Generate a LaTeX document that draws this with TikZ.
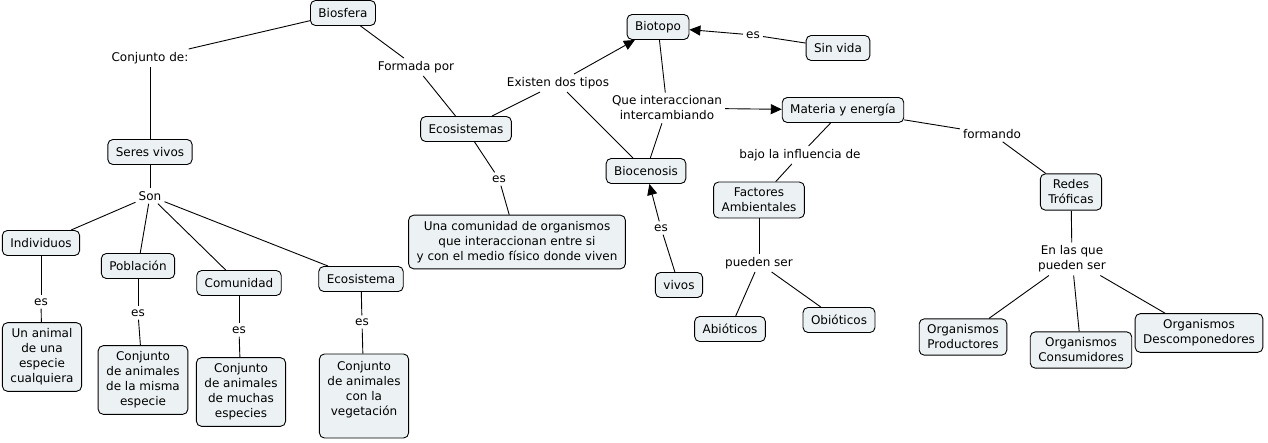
\documentclass[tikz,border=0pt]{standalone}
\usepackage{fontspec}
\setmainfont{DejaVu Sans}
\usetikzlibrary{arrows.meta}
\definecolor{conceptfill}{RGB}{236,242,244}
\tikzset{
  concept/.style={draw=black, line width=0.9pt, rounded corners=5pt, fill=conceptfill,
    inner xsep=8pt, inner ysep=6pt, minimum height=25pt, align=center,
    font=\fontsize{12}{15}\selectfont},
  linkph/.style={inner xsep=3pt, inner ysep=3pt, align=center, font=\fontsize{12}{15}\selectfont},
  conn/.style={line width=0.9pt, draw=black},
  arr/.style={conn, -{Triangle[length=11pt,width=10pt]}}
}
\begin{document}
\begin{tikzpicture}[x=1pt,y=-1pt]
\useasboundingbox (0,0) rectangle (1268,442);
% concepts
\node[concept] (biosfera) at (343,13) {Biosfera};
\node[concept] (seres) at (150,152) {Seres vivos};
\node[concept] (indiv) at (41,243) {Individuos};
\node[concept] (pobl) at (138,266) {Población};
\node[concept] (comun) at (239,283) {Comunidad};
\node[concept] (ecosis) at (361,279) {Ecosistema};
\node[concept] (unanimal) at (42,357) {Un animal\\de una\\especie\\cualquiera};
\node[concept] (cmisma) at (143,380) {Conjunto\\de animales\\de la misma\\especie};
\node[concept] (cmuchas) at (241,392) {Conjunto\\de animales\\de muchas\\especies};
\node[concept, minimum height=84pt] (cveg) at (364,396) {Conjunto\\de animales\\con la\\vegetación\\[0pt]~};
\node[concept] (ecosistemas) at (466,129) {Ecosistemas};
\node[concept] (unacom) at (517,242) {Una comunidad de organismos\\que interaccionan entre si\\y con el medio físico donde viven};
\node[concept] (biotopo) at (658,27) {Biotopo};
\node[concept] (sinvida) at (838,48) {Sin vida};
\node[concept] (biocen) at (646,171) {Biocenosis};
\node[concept] (vivos) at (679,285) {vivos};
\node[concept] (materia) at (843,110) {Materia y energía};
\node[concept] (factores) at (759,200) {Factores\\Ambientales};
\node[concept] (abio) at (730,329) {Abióticos};
\node[concept] (obio) at (839,320) {Obióticos};
\node[concept] (redes) at (1071,192) {Redes\\Tróficas};
\node[concept] (prod) at (963,337) {Organismos\\Productores};
\node[concept] (cons) at (1081,350) {Organismos\\Consumidores};
\node[concept] (desc) at (1199,333) {Organismos\\Descomponedores};
% linking phrases
\node[linkph] (conj) at (150,58) {Conjunto de:};
\node[linkph] (formada) at (416,67) {Formada por};
\node[linkph] (son) at (150,196) {Son};
\node[linkph] (es1) at (41,302) {es};
\node[linkph] (es2) at (138,313) {es};
\node[linkph] (es3) at (239,330) {es};
\node[linkph] (es4) at (362,322) {es};
\node[linkph] (es5) at (499,179) {es};
\node[linkph] (existen) at (558,83) {Existen dos tipos};
\node[linkph] (queint) at (667,108) {Que interaccionan\\intercambiando};
\node[linkph] (es6) at (753,35) {es};
\node[linkph] (es7) at (661,228) {es};
\node[linkph] (bajo) at (800,155) {bajo la influencia de};
\node[linkph] (formando) at (992,134) {formando};
\node[linkph] (pueden) at (759,263) {pueden ser};
\node[linkph] (enlas) at (1072,259) {En las que\\pueden ser};
% connectors
\draw[conn] (biosfera) -- (conj);
\draw[conn] (conj) -- (seres);
\draw[conn] (biosfera) -- (formada);
\draw[conn] (formada) -- (ecosistemas);
\draw[conn] (seres) -- (son);
\draw[conn] (son) -- (indiv);
\draw[conn] (son) -- (pobl);
\draw[conn] (son) -- (comun);
\draw[conn] (son) -- (ecosis);
\draw[conn] (indiv) -- (es1);
\draw[conn] (es1) -- (unanimal);
\draw[conn] (pobl) -- (es2);
\draw[conn] (es2) -- (cmisma);
\draw[conn] (comun) -- (es3);
\draw[conn] (es3) -- (cmuchas);
\draw[conn] (ecosis) -- (es4);
\draw[conn] (es4) -- (cveg);
\draw[conn] (ecosistemas) -- (es5);
\draw[conn] (es5) -- (unacom);
\draw[conn] (ecosistemas) -- (existen);
\draw[arr] (existen) -- (biotopo);
\draw[conn] (existen) -- (biocen);
\draw[conn] (biotopo) -- (queint);
\draw[conn] (biocen) -- (queint);
\draw[arr] (queint) -- (materia);
\draw[conn] (sinvida) -- (es6);
\draw[arr] (es6) -- (biotopo);
\draw[conn] (vivos) -- (es7);
\draw[arr] (es7) -- (biocen);
\draw[conn] (materia) -- (bajo);
\draw[conn] (bajo) -- (factores);
\draw[conn] (materia) -- (formando);
\draw[conn] (formando) -- (redes);
\draw[conn] (factores) -- (pueden);
\draw[conn] (pueden) -- (abio);
\draw[conn] (pueden) -- (obio);
\draw[conn] (redes) -- (enlas);
\draw[conn] (enlas) -- (prod);
\draw[conn] (enlas) -- (cons);
\draw[conn] (enlas) -- (desc);
\end{tikzpicture}
\end{document}
